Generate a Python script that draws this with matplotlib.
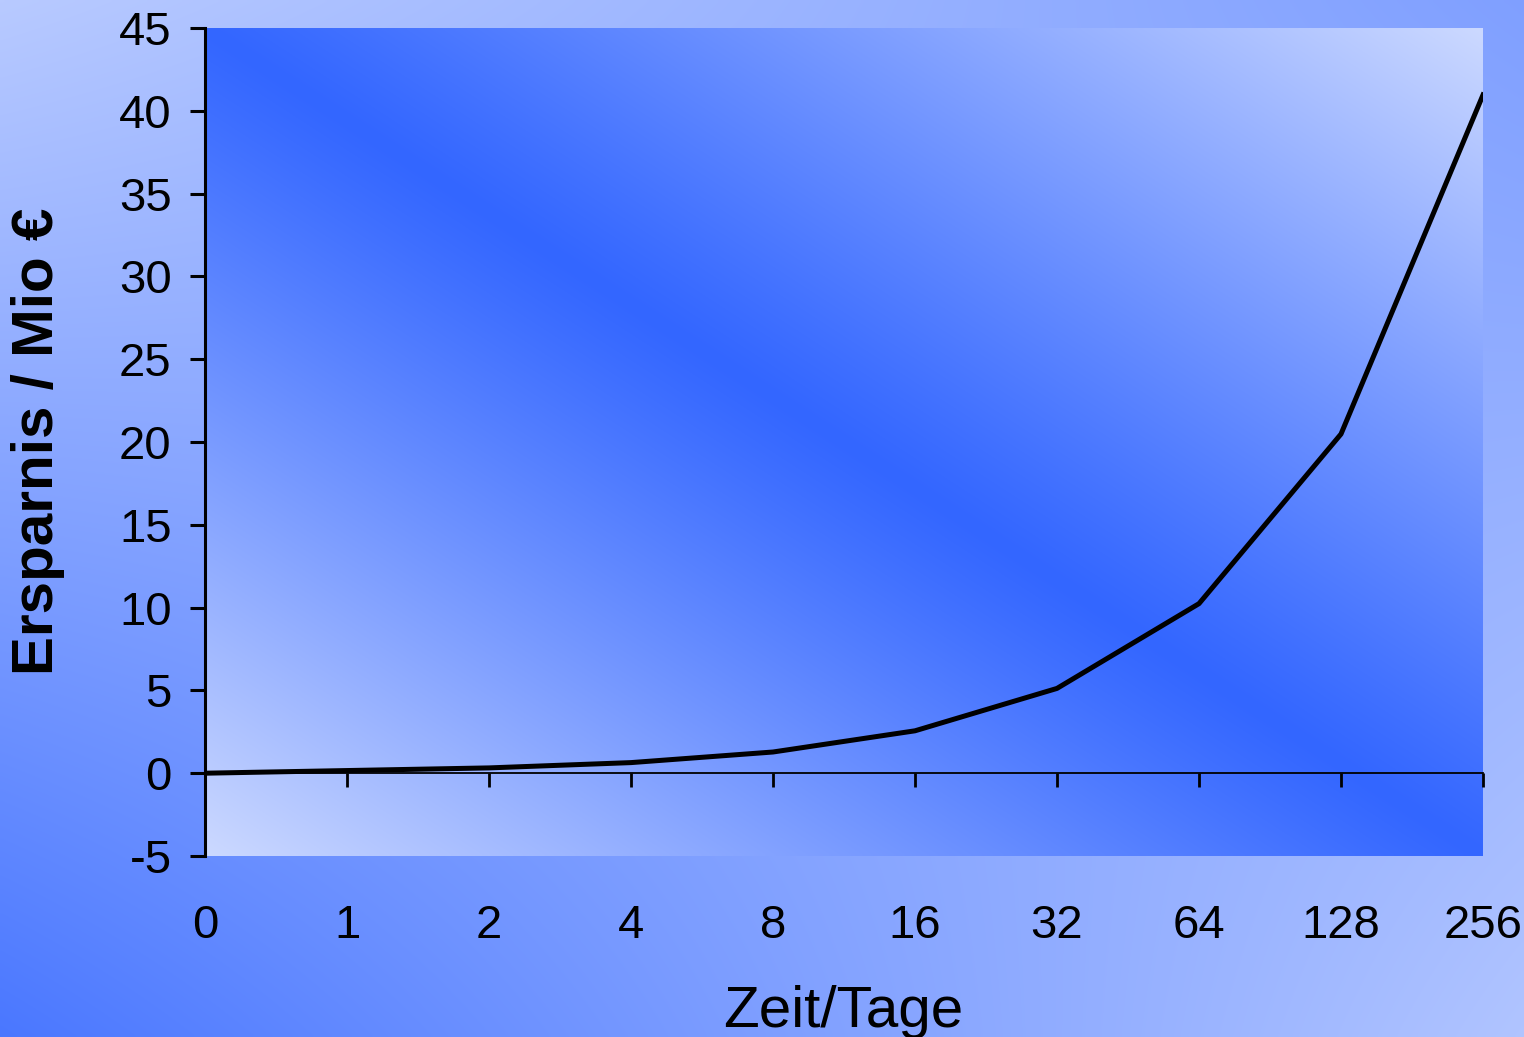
import matplotlib
matplotlib.use("Agg")
import matplotlib.pyplot as plt
import numpy as np

# Werte aus dem Diagramm
tage = ['0', '1', '2', '4', '8', '16', '32', '64', '128', '256']
ersparnis = [0.0, 0.16, 0.32, 0.64, 1.28, 2.56, 5.12, 10.24, 20.48, 40.96]
y_ticks = [-5, 0, 5, 10, 15, 20, 25, 30, 35, 40, 45]

plt.rcParams['font.family'] = ['Liberation Sans', 'DejaVu Sans']
plt.rcParams['axes.unicode_minus'] = False

blue = np.array([0x33, 0x66, 0xFF]) / 255
light = np.array([0xCC, 0xD9, 0xFF]) / 255


def blend(t):
    t = np.clip(t, 0, 1)
    return blue + (light - blue) * t[..., None]


fig = plt.figure(figsize=(15.24, 10.37), dpi=100)

# background of the whole figure
u, v = np.meshgrid(np.linspace(0, 1, 400), np.linspace(0, 1, 300))
t_bg = 0.87 * (1 - u) * (1 - v) + 0.5 * u * (1 - v) + 0.15 * (1 - u) * v + 0.82 * u * v
bg = fig.add_axes([0, 0, 1, 1], zorder=-1)
bg.imshow(blend(t_bg), aspect='auto', extent=[0, 1, 1, 0], interpolation='bilinear')
bg.axis('off')

ax = fig.add_axes([205 / 1524, 1 - 856 / 1037, 1278 / 1524, 828 / 1037])
ax.set_facecolor('none')
t_ax = np.abs(u - v) ** 1.1
ax.imshow(blend(t_ax), aspect='auto', extent=[0, 9, -5, 45], zorder=0,
          interpolation='bilinear')

ax.plot(range(len(tage)), ersparnis, color='black', lw=3.6, zorder=3)

ax.set_xlim(0, 9)
ax.set_ylim(-5, 45)
ax.set_xticks(range(len(tage)))
ax.set_xticklabels(tage)
ax.set_yticks(y_ticks)

for s in ['top', 'right']:
    ax.spines[s].set_visible(False)
ax.spines['left'].set_linewidth(2.2)
ax.spines['bottom'].set_position(('data', 0))
ax.spines['bottom'].set_linewidth(1.3)

ax.tick_params(axis='y', direction='out', length=10.5, width=2.2,
               pad=13.5, labelsize=34, colors='black')
ax.tick_params(axis='x', direction='out', length=10, width=2,
               pad=84, labelsize=34, colors='black')

fig.text(38 / 1524, 1 - 441 / 1037, 'Ersparnis / Mio €', rotation=90,
         ha='center', va='center', fontsize=42, fontweight='bold')
fig.text(843 / 1524, 1 - 1027 / 1037, 'Zeit/Tage', ha='center',
         va='baseline', fontsize=42)

fig.savefig('out.png', dpi=100)
